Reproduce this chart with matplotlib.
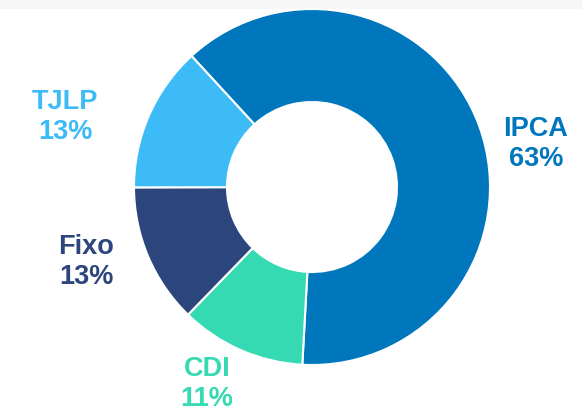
import matplotlib
matplotlib.use("Agg")
import matplotlib.pyplot as plt
from matplotlib.patches import Rectangle

categories = ["IPCA", "CDI", "Fixo", "TJLP"]
values = [62.7, 11.4, 12.7, 13.2]
labels_pct = ["63%", "11%", "13%", "13%"]
colors = ["#0077BD", "#36DAB2", "#2C457D", "#3CBBF7"]

W, H = 582, 413
fig = plt.figure(figsize=(W / 100, H / 100), dpi=100)
fig.patch.set_facecolor("white")
ax = fig.add_axes([0, 0, 1, 1])
ax.set_xlim(0, W)
ax.set_ylim(0, H)
ax.set_aspect("equal")
ax.axis("off")

ax.add_patch(Rectangle((0, H - 9), W, 9, facecolor="#F7F7F7", edgecolor="none", zorder=0))

cx, cy, R = 312, H - 187, 178
ax.pie(values, colors=colors, startangle=132.6, counterclock=False,
       center=(cx, cy), radius=R, frame=True,
       wedgeprops=dict(width=R - 85, edgecolor="white", linewidth=1.5))
ax.set_xlim(0, W)
ax.set_ylim(0, H)
ax.axis("off")

label_pos = {"IPCA": (536, 129), "CDI": (207, 369), "Fixo": (86, 247), "TJLP": (65, 102)}
for cat, pct, col in zip(categories, labels_pct, colors):
    x, y = label_pos[cat]
    ax.text(x, H - y, cat, ha="center", va="center", color=col,
            fontsize=19.5, fontweight="bold", family="Liberation Sans")
    ax.text(x, H - y - 30, pct, ha="center", va="center", color=col,
            fontsize=19.5, fontweight="bold", family="Liberation Sans")

fig.savefig("out.png", dpi=100)
